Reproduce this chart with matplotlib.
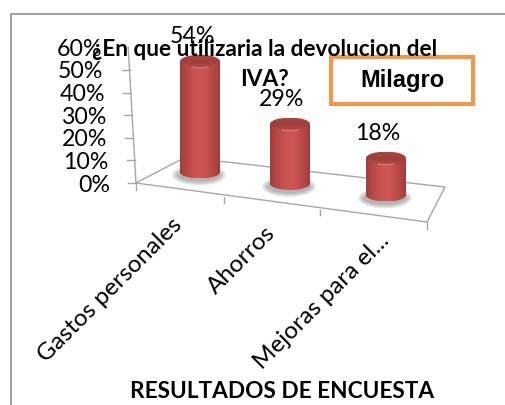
# grafico de encuesta, cilindros en falso 3D
import numpy as np
import matplotlib
matplotlib.use('Agg')
import matplotlib.pyplot as plt
from matplotlib.patches import Ellipse, Rectangle, PathPatch, Arc
from matplotlib.path import Path
from matplotlib.colors import LinearSegmentedColormap

categorias = ['Gastos personales', 'Ahorros', 'Mejoras para el...']
valores = [54, 29, 18]
etiquetas = ['54%', '29%', '18%']
ticks_y = [0, 10, 20, 30, 40, 50, 60]

plt.rcParams['font.family'] = ['Lato', 'DejaVu Sans']

fig = plt.figure(figsize=(5.05, 4.05), dpi=100)
ax = fig.add_axes([0, 0, 1, 1])
ax.set_xlim(0, 505)
ax.set_ylim(405, 0)
ax.axis('off')

gris = '#a6a6a6'

# marco del grafico
ax.plot([11, 11, 505], [405, 14, 14], color='#a0a0a0', lw=1.4)


# escala del eje y (con la inclinacion de la pared)
def eje_y(v):
    return 136 - v * 0.13, 183 - v * 2.26


# piso y pared
ax.plot([136, 427, 445, 218], [183, 222, 187, 161], color=gris, lw=1)
ax.plot([136, 180], [183, 160], color=gris, lw=1)
x0, y0 = eje_y(0)
x1, y1 = eje_y(60)
ax.plot([x0, x1], [y0, y1], color=gris, lw=1)

for t in ticks_y:
    x, y = eje_y(t)
    if t < 60:
        ax.plot([x - 8, x], [y, y], color=gris, lw=1)
    ax.text(x - 26, y + 2, '%d%%' % t, ha='right', va='center', fontsize=16.7,
            color='black', zorder=6)

# ticks del eje x
for x, y, h in [(136, 183, 7), (224, 197, 6), (320, 210, 5), (427, 222, 7)]:
    ax.plot([x, x], [y, y + h], color=gris, lw=1)

rojo = LinearSegmentedColormap.from_list(
    'rojo', ['#a03f3d', '#bb4a47', '#cb5552', '#cb5552', '#bb4a47', '#a03f3d'])
rojo_tapa = LinearSegmentedColormap.from_list(
    'tapa', ['#a84441', '#a03f3d', '#b04a47'])

ancho = 20
alto_elipse = 6.5
escala = 2.05

for i, v in enumerate(valores):
    cx = 200 + 93 * i - (3 if i == 1 else 0)
    cy = 172 + 11.5 * i
    top = cy - v * escala

    # sombra
    for k in range(5):
        ax.add_patch(Ellipse((cx - 1, cy + 3), 2 * ancho + 14 - 3 * k, 2 * alto_elipse + 8 - 2 * k,
                             color='#707070', alpha=0.13, lw=0, zorder=2))

    # cuerpo
    arco = np.linspace(np.pi, 0, 40)
    xs = np.concatenate([[cx - ancho, cx + ancho], cx + ancho * np.cos(arco[::-1]),
                         [cx - ancho]])
    ys = np.concatenate([[top, top], cy + alto_elipse * np.sin(arco[::-1]), [top]])
    cuerpo = PathPatch(Path(np.column_stack([xs, ys])), fc='none', ec='none', zorder=3)
    ax.add_patch(cuerpo)
    img = ax.imshow(np.linspace(0, 1, 80).reshape(1, -1), cmap=rojo, aspect='auto',
                    extent=[cx - ancho, cx + ancho, cy + alto_elipse, top], zorder=3)
    img.set_clip_path(cuerpo)

    # tapa
    tapa = Ellipse((cx, top), 2 * ancho, 2 * alto_elipse, fc='none', ec='none', zorder=4)
    ax.add_patch(tapa)
    img2 = ax.imshow(np.linspace(0, 1, 20).reshape(-1, 1), cmap=rojo_tapa, aspect='auto',
                     extent=[cx - ancho, cx + ancho, top + alto_elipse, top - alto_elipse],
                     zorder=4)
    img2.set_clip_path(tapa)
    # brillo en el borde de la tapa (eje y invertido: 20-160 grados es el borde de abajo)
    ax.add_patch(Arc((cx, top), 2 * ancho - 1, 2 * alto_elipse, theta1=35, theta2=145,
                     color='#dc7470', lw=1, zorder=4))

    ax.text(cx - 8, top - 25, etiquetas[i], ha='center', va='center', fontsize=16.7,
            color='black', zorder=6)

ax.set_xlim(0, 505)
ax.set_ylim(405, 0)

# etiquetas de categorias a 45 grados
pos_cat = [(171, 214), (265, 222), (378, 230)]
for c, (x, y) in zip(categorias, pos_cat):
    ax.text(x, y, c, rotation=45, rotation_mode='anchor', ha='right', va='top',
            fontsize=17.5, color='black', zorder=6)

# titulo
ax.text(265, 50, '¿En que utilizaria la devolucion del', ha='center', va='center',
        fontsize=16.3, fontweight='bold', color='black', zorder=7)
ax.text(264, 79, 'IVA?', ha='center', va='center', fontsize=16.3, fontweight='bold',
        color='black', zorder=7)

# recuadro
ax.add_patch(Rectangle((331, 57), 142, 47, fc='white', ec='#f79646', lw=2.9, zorder=5))
ax.text(402, 81, 'Milagro', ha='center', va='center', fontsize=17, fontweight='bold',
        family=['Liberation Sans'], color='black', zorder=7)

ax.text(282, 391, 'RESULTADOS DE ENCUESTA', ha='center', va='center', fontsize=16.3,
        fontweight='bold', color='black')

fig.savefig('out.png', dpi=100)
